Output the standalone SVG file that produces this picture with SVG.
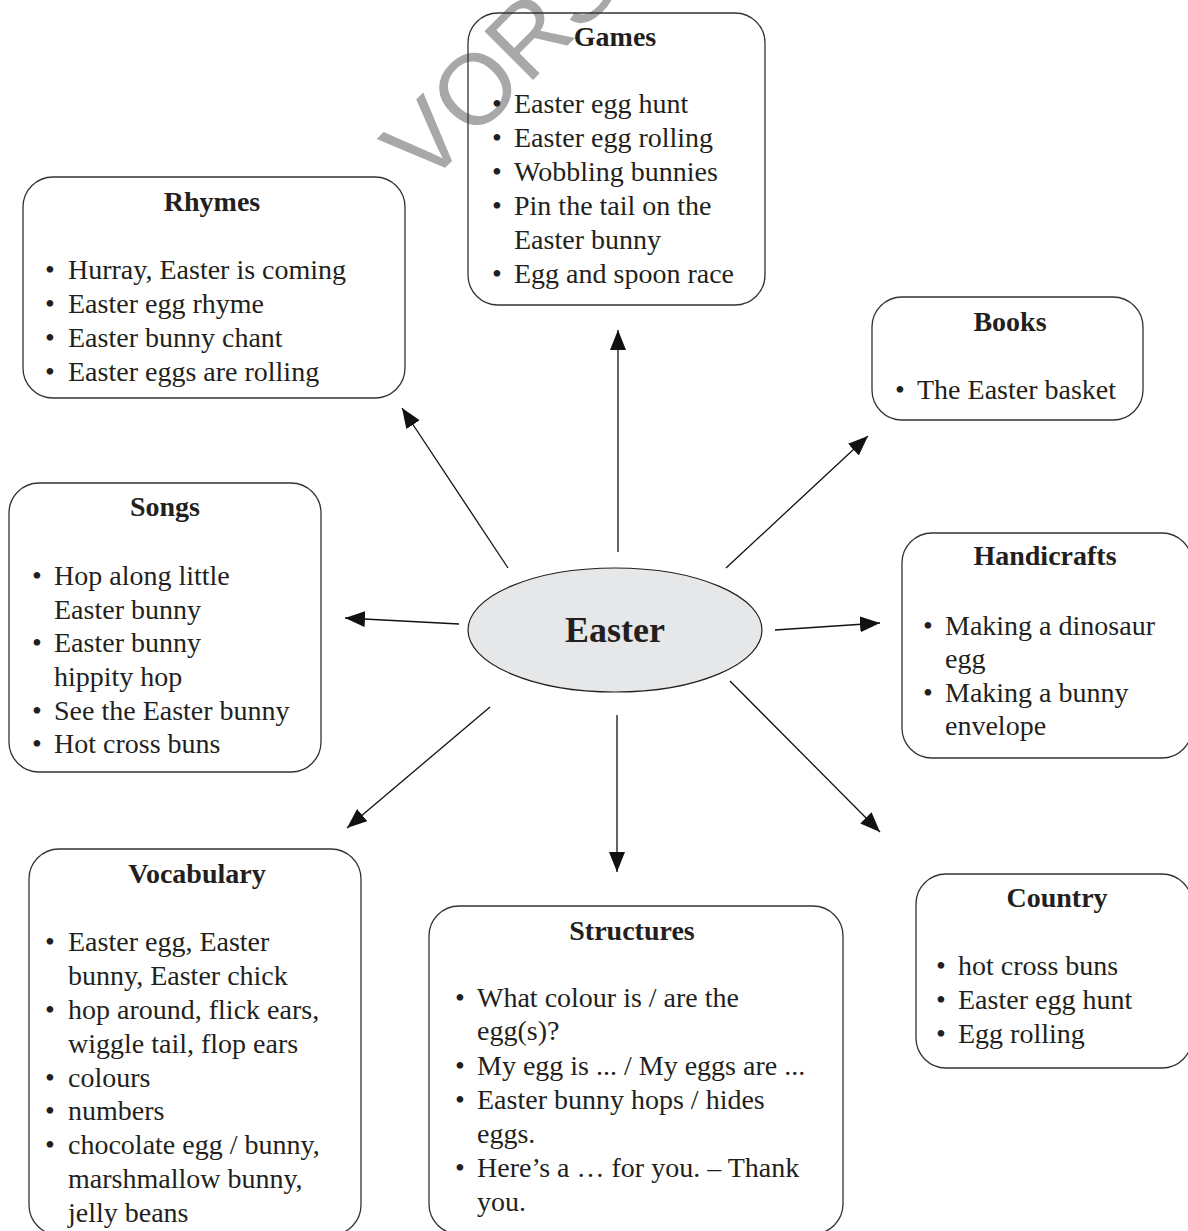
<svg xmlns="http://www.w3.org/2000/svg" width="1188" height="1231" viewBox="0 0 1188 1231">
<style>
.box{fill:none;stroke:#333;stroke-width:1.3}
.t{font-family:"Liberation Serif","Times New Roman",serif;font-size:28px;fill:#231f20}
.h{font-family:"Liberation Serif","Times New Roman",serif;font-size:28px;font-weight:bold;fill:#231f20;text-anchor:middle}
.c{stroke:#111;stroke-width:1.3;fill:none;marker-end:url(#ah)}
.wm{font-family:"Liberation Sans",Arial,sans-serif;font-size:100px;fill:#a8a8a8}
</style>
<defs>
<marker id="ah" markerUnits="userSpaceOnUse" markerWidth="22" markerHeight="18" refX="20" refY="8" orient="auto">
<path d="M0,0 L20,8 L0,16 z" fill="#111"/>
</marker>
</defs>
<rect width="1188" height="1231" fill="#fff"/>
<text class="wm" transform="translate(425,188) rotate(-45)">VORS</text>

<g id="connectors">
<line class="c" x1="618" y1="552" x2="618" y2="330"/>
<line class="c" x1="508" y1="568" x2="402" y2="408"/>
<line class="c" x1="726" y1="568" x2="868" y2="436"/>
<line class="c" x1="459" y1="624" x2="345" y2="618"/>
<line class="c" x1="775" y1="630" x2="880" y2="623"/>
<line class="c" x1="490" y1="707" x2="347" y2="828"/>
<line class="c" x1="617" y1="715" x2="617" y2="872"/>
<line class="c" x1="730" y1="681" x2="880" y2="832"/>
</g>

<g id="easter">
<ellipse cx="615" cy="630" rx="147" ry="62" fill="#e6e7e8" stroke="#231f20" stroke-width="1.2"/>
<text x="615" y="642" class="h" style="font-size:36px">Easter</text>
</g>

<g id="games">
<rect class="box" x="468" y="13" width="297" height="292" rx="30"/>
<text class="h" x="615" y="46">Games</text>
<text class="t" x="492" y="113">•</text><text class="t" x="514" y="113">Easter egg hunt</text>
<text class="t" x="492" y="147">•</text><text class="t" x="514" y="147">Easter egg rolling</text>
<text class="t" x="492" y="181">•</text><text class="t" x="514" y="181">Wobbling bunnies</text>
<text class="t" x="492" y="215">•</text><text class="t" x="514" y="215">Pin the tail on the</text>
<text class="t" x="514" y="249">Easter bunny</text>
<text class="t" x="492" y="283">•</text><text class="t" x="514" y="283">Egg and spoon race</text>
</g>

<g id="rhymes">
<rect class="box" x="23" y="177" width="382" height="221" rx="30"/>
<text class="h" x="212" y="211">Rhymes</text>
<text class="t" x="45" y="279">•</text><text class="t" x="68" y="279">Hurray, Easter is coming</text>
<text class="t" x="45" y="313">•</text><text class="t" x="68" y="313">Easter egg rhyme</text>
<text class="t" x="45" y="347">•</text><text class="t" x="68" y="347">Easter bunny chant</text>
<text class="t" x="45" y="381">•</text><text class="t" x="68" y="381">Easter eggs are rolling</text>
</g>

<g id="books">
<rect class="box" x="872" y="297" width="271" height="123" rx="30"/>
<text class="h" x="1010" y="331">Books</text>
<text class="t" x="895" y="399">•</text><text class="t" x="917" y="399">The Easter basket</text>
</g>

<g id="songs">
<rect class="box" x="9" y="483" width="312" height="289" rx="30"/>
<text class="h" x="165" y="516">Songs</text>
<text class="t" x="32" y="585">•</text><text class="t" x="54" y="585">Hop along little</text>
<text class="t" x="54" y="619">Easter bunny</text>
<text class="t" x="32" y="652">•</text><text class="t" x="54" y="652">Easter bunny</text>
<text class="t" x="54" y="686">hippity hop</text>
<text class="t" x="32" y="720">•</text><text class="t" x="54" y="720">See the Easter bunny</text>
<text class="t" x="32" y="753">•</text><text class="t" x="54" y="753">Hot cross buns</text>
</g>

<g id="handicrafts">
<rect class="box" x="902" y="533" width="290" height="225" rx="30"/>
<text class="h" x="1045" y="565">Handicrafts</text>
<text class="t" x="923" y="635">•</text><text class="t" x="945" y="635">Making a dinosaur</text>
<text class="t" x="945" y="668">egg</text>
<text class="t" x="923" y="702">•</text><text class="t" x="945" y="702">Making a bunny</text>
<text class="t" x="945" y="735">envelope</text>
</g>

<g id="vocabulary">
<rect class="box" x="29" y="849" width="332" height="386" rx="30"/>
<text class="h" x="197" y="883">Vocabulary</text>
<text class="t" x="45" y="951">•</text><text class="t" x="68" y="951">Easter egg, Easter</text>
<text class="t" x="68" y="985">bunny, Easter chick</text>
<text class="t" x="45" y="1019">•</text><text class="t" x="68" y="1019">hop around, flick ears,</text>
<text class="t" x="68" y="1053">wiggle tail, flop ears</text>
<text class="t" x="45" y="1087">•</text><text class="t" x="68" y="1087">colours</text>
<text class="t" x="45" y="1120">•</text><text class="t" x="68" y="1120">numbers</text>
<text class="t" x="45" y="1154">•</text><text class="t" x="68" y="1154">chocolate egg / bunny,</text>
<text class="t" x="68" y="1188">marshmallow bunny,</text>
<text class="t" x="68" y="1222">jelly beans</text>
</g>

<g id="structures">
<rect class="box" x="429" y="906" width="414" height="328" rx="30"/>
<text class="h" x="632" y="940">Structures</text>
<text class="t" x="455" y="1007">•</text><text class="t" x="477" y="1007">What colour is / are the</text>
<text class="t" x="477" y="1040">egg(s)?</text>
<text class="t" x="455" y="1075">•</text><text class="t" x="477" y="1075">My egg is ... / My eggs are ...</text>
<text class="t" x="455" y="1109">•</text><text class="t" x="477" y="1109">Easter bunny hops / hides</text>
<text class="t" x="477" y="1143">eggs.</text>
<text class="t" x="455" y="1177">•</text><text class="t" x="477" y="1177">Here’s a … for you. – Thank</text>
<text class="t" x="477" y="1211">you.</text>
</g>

<g id="country">
<rect class="box" x="916" y="874" width="276" height="194" rx="30"/>
<text class="h" x="1057" y="907">Country</text>
<text class="t" x="936" y="975">•</text><text class="t" x="958" y="975">hot cross buns</text>
<text class="t" x="936" y="1009">•</text><text class="t" x="958" y="1009">Easter egg hunt</text>
<text class="t" x="936" y="1043">•</text><text class="t" x="958" y="1043">Egg rolling</text>
</g>
</svg>
